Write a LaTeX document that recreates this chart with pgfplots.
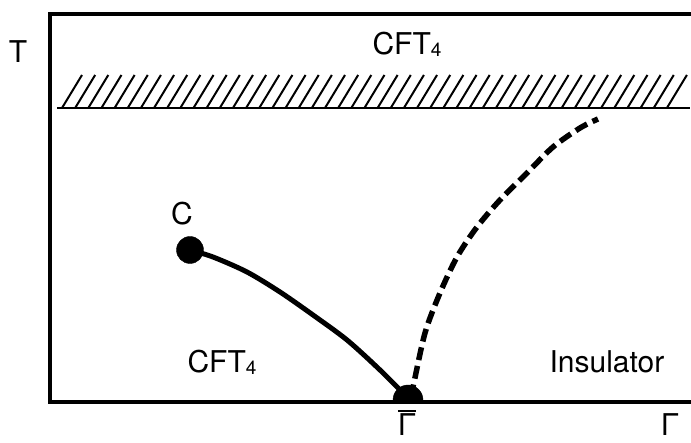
\documentclass[border=0pt]{standalone}
\usepackage{pgfplots}
\pgfplotsset{compat=1.18}
\usepackage{fontspec}
\setmainfont{TeX Gyre Heros}
\newcommand{\cft}{CFT\raisebox{-1.5pt}{\fontsize{19}{19}\selectfont 4}}
\tikzset{lbl/.style={font=\fontsize{30}{35}\selectfont, inner sep=0pt, anchor=base}}
\begin{document}
\begin{tikzpicture}
\begin{axis}[
  scale only axis, width=691pt, height=402pt,
  xmin=-50, xmax=641, ymin=0, ymax=402,
  hide axis, clip=true, clip marker paths=true,
]
% hatched boundary
\draw[line width=2.2pt] (axis cs:7,294) -- (axis cs:640,294);
\pgfplotsinvokeforeach{0,...,46}{
  \draw[line width=2pt] (axis cs:{12+#1*13.15},294) -- (axis cs:{32+#1*13.15},327);
}
% solid line from C
\addplot[black, line width=5pt, smooth] coordinates {
  (140,152) (163,145) (197,130) (230,110) (263,87) (297,62) (330,32) (357,5)};
% dashed line
\addplot[black, line width=5.5pt, smooth, dash pattern=on 13pt off 6pt] coordinates {
  (360,5) (363,15) (375,69) (390,109) (407,145) (427,175) (450,202) (477,229) (503,255) (530,274) (548,283)};
% point C
\addplot[only marks, mark=*, mark size=13.5pt, black] coordinates {(140,152)};
% critical point (half hidden below axis)
\addplot[only marks, mark=*, mark size=15pt, black] coordinates {(358,2)};
% anchors for frame and labels
\coordinate (f1) at (axis cs:641,388);
\coordinate (f2) at (axis cs:0,388);
\coordinate (f3) at (axis cs:0,0);
\coordinate (f4) at (axis cs:641,0);
\coordinate (lT) at (axis cs:-32,339);
\coordinate (lA) at (axis cs:357,347);
\coordinate (lC) at (axis cs:132,177);
\coordinate (lB) at (axis cs:172,29);
\coordinate (lI) at (axis cs:557,29);
\coordinate (lG) at (axis cs:357,-34);
\coordinate (lH) at (axis cs:620,-34);
\coordinate (bl) at (axis cs:-50,-41);
\coordinate (tr) at (axis cs:641,402);
\end{axis}
% frame (left, top, bottom)
\draw[line width=4.5pt, line join=miter] (f1) -- (f2) -- (f3) -- (f4);
% labels
\node[lbl] at (lT) {T};
\node[lbl] at (lA) {\cft};
\node[lbl] at (lC) {C};
\node[lbl] at (lB) {\cft};
\node[lbl] at (lI) {Insulator};
\node[lbl] at (lG) {\setbox0\hbox{Γ}\vbox{\hrule width\wd0 height 2pt\kern2pt\box0}};
\node[lbl] at (lH) {Γ};
\pgfresetboundingbox
\path (bl) rectangle (tr);
\end{tikzpicture}
\end{document}
